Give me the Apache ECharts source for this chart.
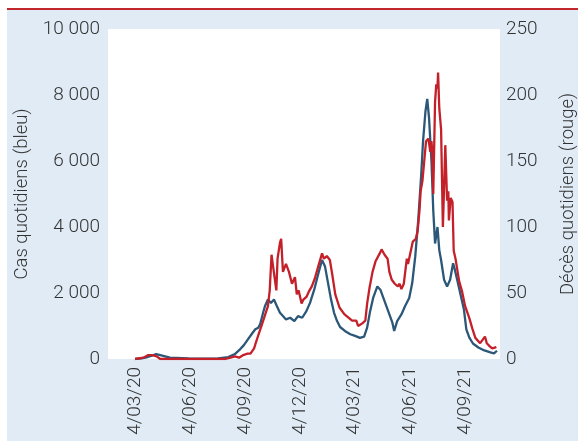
<!DOCTYPE html>
<html>
<head>
<meta charset="utf-8">
<script src="https://cdn.jsdelivr.net/npm/echarts@6/dist/echarts.min.js"></script>
<style>
html,body{margin:0;padding:0;background:#fff;}
#chart{width:578px;height:441px;}
</style>
</head>
<body>
<div id="chart"></div>
<script>
// Daily cases (blue) – dates and values
const caseDates = ['2020-03-04','2020-03-15','2020-03-25','2020-04-01','2020-04-08','2020-04-15','2020-05-01','2020-06-01','2020-07-01','2020-07-20',
'2020-08-06','2020-08-17','2020-08-26','2020-09-01','2020-09-08','2020-09-15','2020-09-20','2020-09-25','2020-09-28','2020-10-03',
'2020-10-06','2020-10-11','2020-10-16','2020-10-21','2020-10-26','2020-10-31','2020-11-05','2020-11-10','2020-11-17','2020-11-24',
'2020-11-30','2020-12-07','2020-12-14','2020-12-20','2020-12-27','2021-01-03','2021-01-09','2021-01-14','2021-01-19','2021-01-24',
'2021-01-29','2021-02-03','2021-02-08','2021-02-16','2021-02-25','2021-03-05','2021-03-13','2021-03-20','2021-03-25','2021-03-30',
'2021-04-04','2021-04-11','2021-04-16','2021-04-21','2021-04-26','2021-05-01','2021-05-06','2021-05-09','2021-05-14','2021-05-21',
'2021-05-27','2021-06-03','2021-06-08','2021-06-13','2021-06-18','2021-06-23','2021-06-26','2021-06-30','2021-07-03','2021-07-06',
'2021-07-10','2021-07-13','2021-07-16','2021-07-20','2021-07-23','2021-07-26','2021-07-31','2021-08-05','2021-08-10','2021-08-15',
'2021-08-18','2021-08-23','2021-08-28','2021-09-02','2021-09-06','2021-09-11','2021-09-17','2021-09-26','2021-10-06','2021-10-16',
'2021-10-22','2021-10-27'];
const caseValues = [0,20,60,100,150,120,40,20,10,20,
60,150,300,420,600,780,900,950,1050,1400,
1600,1800,1700,1800,1600,1400,1300,1200,1250,1150,
1300,1250,1450,1700,2100,2600,3000,2800,2300,1800,
1400,1150,970,850,750,700,640,680,950,1450,
1850,2200,2100,1850,1600,1350,1100,850,1150,1350,
1600,1850,2300,3100,4200,5600,6600,7500,7880,7300,
6000,4500,3500,4000,3300,3000,2400,2200,2400,2900,
2700,2300,1900,1500,900,650,470,350,260,200,
170,250];

// Daily deaths (red)
const deathDates = ['2020-03-04','2020-03-18','2020-03-26','2020-04-02','2020-04-09','2020-04-15','2020-05-15','2020-07-01','2020-08-01','2020-08-10',
'2020-08-17','2020-08-24','2020-08-31','2020-09-07','2020-09-12','2020-09-18','2020-09-20','2020-09-25','2020-10-01','2020-10-06',
'2020-10-11','2020-10-14','2020-10-17','2020-10-19','2020-10-22','2020-10-25','2020-10-27','2020-10-31','2020-11-02','2020-11-05',
'2020-11-10','2020-11-15','2020-11-20','2020-11-25','2020-11-28','2020-12-01','2020-12-06','2020-12-09','2020-12-14','2020-12-18',
'2020-12-23','2020-12-28','2021-01-02','2021-01-09','2021-01-12','2021-01-17','2021-01-22','2021-01-26','2021-01-31','2021-02-07',
'2021-02-15','2021-02-23','2021-02-28','2021-03-07','2021-03-10','2021-03-17','2021-03-22','2021-03-25','2021-03-29','2021-04-03',
'2021-04-08','2021-04-15','2021-04-18','2021-04-23','2021-04-28','2021-05-01','2021-05-05','2021-05-10','2021-05-15','2021-05-18',
'2021-05-21','2021-05-25','2021-05-30','2021-06-01','2021-06-04','2021-06-09','2021-06-14','2021-06-17','2021-06-20','2021-06-22',
'2021-06-25','2021-06-28','2021-07-01','2021-07-05','2021-07-08','2021-07-10','2021-07-11','2021-07-13','2021-07-16','2021-07-18',
'2021-07-20','2021-07-21','2021-07-23','2021-07-26','2021-07-29','2021-07-31','2021-08-02','2021-08-05','2021-08-07','2021-08-08',
'2021-08-11','2021-08-14','2021-08-16','2021-08-19','2021-08-25','2021-08-30','2021-09-04','2021-09-11','2021-09-16','2021-09-21',
'2021-09-29','2021-10-07','2021-10-10','2021-10-14','2021-10-19','2021-10-26'];
const deathValues = [0,1,3,3,2,0,0,0,0,1,
2,1,3,4,4,8,11,18,26,33,
40,52,79,72,72,52,76,88,91,66,
72,66,57,62,49,52,42,45,47,51,
55,61,69,80,76,78,75,64,49,39,
34,31,29,29,25,27,29,42,54,66,
74,80,83,79,76,66,60,57,55,57,
53,57,76,72,73,89,91,97,112,127,
135,150,165,167,157,165,159,125,195,208,
205,217,190,174,100,130,162,120,127,105,
122,119,82,76,59,51,40,31,23,16,
12,17,12,10,8,9];

// X-axis tick label dates
const tickDates = ['2020-03-04','2020-06-04','2020-09-04','2020-12-04','2021-03-04','2021-06-04','2021-09-04'];

function toTime(s){const p=s.split('-').map(Number);return Date.UTC(p[0],p[1]-1,p[2]);}
const caseData = caseDates.map((d,i)=>[toTime(d), caseValues[i]]);
const deathData = deathDates.map((d,i)=>[toTime(d), deathValues[i]]);

const FONT = "Roboto,'Noto Sans',sans-serif";
const TXT = '#333333';
function pad(n){return n<10?'0'+n:''+n;}
function fmtThousands(v){return String(v).replace(/\B(?=(\d{3})+(?!\d))/g,' ');}

const chart = echarts.init(document.getElementById('chart'), null, {renderer:'canvas'});
chart.setOption({
  animation:false,
  backgroundColor:'#ffffff',
  graphic:[
    {type:'rect', left:7, top:10, shape:{width:571, height:431}, style:{fill:'#e0ebf5'}, z:-10},
    {type:'rect', left:7, top:8, shape:{width:571, height:2}, style:{fill:'#c1272d'}, z:-9}
  ],
  grid:{left:108, right:78, top:29, bottom:82, show:true, backgroundColor:'#ffffff', borderWidth:0, outerBoundsMode:'none', containLabel:false},
  xAxis:{
    type:'value',
    min:toTime('2020-01-19'), max:toTime('2021-11-01'),
    axisLine:{show:false}, axisTick:{show:false}, splitLine:{show:false},
    axisLabel:{
      customValues: tickDates.map(toTime),
      rotate:90, margin:8, fontFamily:FONT, fontWeight:300, fontSize:19, color:TXT,
      formatter:function(v){const d=new Date(v);return d.getUTCDate()+'/'+pad(d.getUTCMonth()+1)+'/'+pad(d.getUTCFullYear()%100);}
    }
  },
  yAxis:[
    {type:'value', min:0, max:10000, interval:2000, position:'left',
     name:'Cas quotidiens (bleu)', nameLocation:'middle', nameRotate:90, nameGap:66,
     nameTextStyle:{fontFamily:FONT, fontWeight:300, fontSize:18.5, color:TXT},
     axisLine:{show:false}, axisTick:{show:false}, splitLine:{show:false},
     axisLabel:{fontFamily:FONT, fontWeight:300, fontSize:19, color:TXT, margin:8, formatter:fmtThousands}},
    {type:'value', min:0, max:250, interval:50, position:'right',
     name:'Décès quotidiens (rouge)', nameLocation:'middle', nameRotate:90, nameGap:59,
     nameTextStyle:{fontFamily:FONT, fontWeight:300, fontSize:18.5, color:TXT},
     axisLine:{show:false}, axisTick:{show:false}, splitLine:{show:false},
     axisLabel:{fontFamily:FONT, fontWeight:300, fontSize:19, color:TXT, margin:6}}
  ],
  series:[
    {type:'line', name:'Cas', yAxisIndex:0, data:caseData, showSymbol:false, symbol:'none',
     lineStyle:{color:'#2b5778', width:2.3}, itemStyle:{color:'#2b5778'}},
    {type:'line', name:'Décès', yAxisIndex:1, data:deathData, showSymbol:false, symbol:'none',
     lineStyle:{color:'#c4202a', width:2.3}, itemStyle:{color:'#c4202a'}}
  ]
});
</script>
</body>
</html>
